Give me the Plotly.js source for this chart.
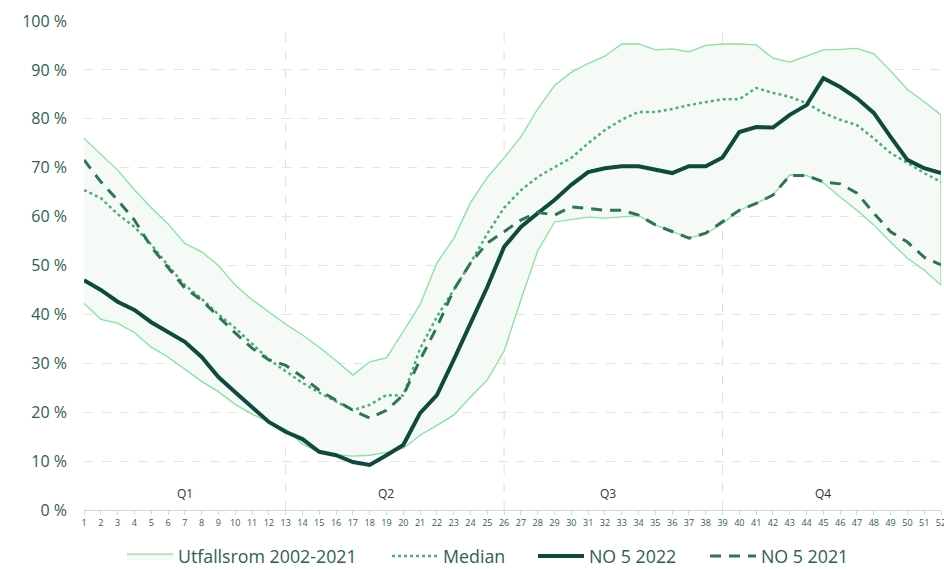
<!DOCTYPE html>
<html>
<head>
<meta charset="utf-8">
<script src="https://cdn.plot.ly/plotly-3.0.1.min.js"></script>
<style>
  body { margin: 0; background: #fff; }
  #chart { width: 944px; height: 570px; }
</style>
</head>
<body>
<div id="chart"></div>
<script>
// Fyllingsgrad NO 5, uke 1-52 (prosent)
const uker = Array.from({ length: 52 }, (_, i) => i + 1);

const maks = [76, 72.8, 69.5, 65.5, 61.8, 58.5, 54.5, 52.8, 50, 46, 43, 40.5, 38, 35.8, 33.3, 30.5, 27.6, 30.3, 31.1, 36.5,
  42, 50.5, 55.5, 62.8, 68, 72, 76.3, 82, 86.8, 89.5, 91.3, 92.8, 95.3, 95.3, 94.1, 94.3, 93.7, 95, 95.3, 95.3,
  95.1, 92.4, 91.6, 92.8, 94.1, 94.2, 94.4, 93.3, 89.8, 86, 83.5, 80.8];

const min = [42.3, 39, 38.2, 36.3, 33.3, 31.3, 28.8, 26.3, 24.2, 21.6, 19.6, 18, 16.5, 13.5, 11.8, 11.3, 11, 11.2, 11.8, 12.6,
  15.3, 17.3, 19.4, 23.1, 26.6, 32.5, 43, 53, 58.9, 59.4, 59.9, 59.7, 60, 60.2, 58.3, 57, 55.6, 56.5, 58.6, 61.3,
  62.7, 64.4, 68.5, 68.4, 66.9, 64, 61.3, 58.3, 54.8, 51.5, 49.1, 46];

const median = [65.4, 63.8, 60.5, 57.9, 54.3, 50, 46, 43.2, 40, 37.2, 34, 30.8, 28.4, 26, 24, 22.2, 20.4, 21.5, 23.5, 23.4,
  33, 39.5, 45, 50.5, 56.5, 61.8, 65.4, 68.1, 70.1, 72, 75, 77.7, 79.8, 81.4, 81.4, 82, 82.8, 83.4, 84, 84,
  86.3, 85.3, 84.5, 83.2, 81.2, 79.8, 78.7, 76, 73, 71, 68.9, 67.1];

const no5_2022 = [47, 45, 42.6, 40.9, 38.4, 36.4, 34.4, 31.3, 27.2, 24.1, 21.1, 18, 16, 14.5, 11.9, 11.2, 9.8, 9.2, 11.2, 13.3,
  19.8, 23.5, 30.7, 38.2, 45.6, 53.8, 57.9, 60.7, 63.4, 66.5, 69.1, 69.9, 70.3, 70.3, 69.7, 68.9, 70.3, 70.3, 72.1, 77.3,
  78.3, 78.2, 80.8, 82.8, 88.3, 86.5, 84.2, 81.2, 76.3, 71.6, 69.9, 68.9];

const no5_2021 = [71.6, 67.1, 63.4, 59.3, 53.8, 49.7, 45.4, 42.9, 39.5, 36.2, 33.1, 30.7, 29.6, 27.2, 24.5, 22.5, 20.4, 18.8, 20.4, 23.5,
  30.7, 37.4, 45, 50.5, 54.6, 56.9, 59.3, 60.9, 60.3, 62, 61.6, 61.3, 61.3, 60.3, 58.3, 56.9, 55.6, 56.6, 58.9, 61.3,
  62.7, 64.4, 68.4, 68.4, 67.1, 66.7, 64.8, 60.7, 56.9, 54.8, 51.7, 50.1];

const kvartaler = ['Q1', 'Q2', 'Q3', 'Q4'];
const kvartalMidt = [7, 19, 32.2, 45];
const kvartalGrenser = [13, 26, 39];

const tekstFarge = '#2f5d57';

// Utfallsrom som lukket polygon (maks fram, min tilbake)
const utfallsrom = {
  x: uker.concat(uker.slice().reverse()),
  y: maks.concat(min.slice().reverse()),
  type: 'scatter',
  mode: 'lines',
  fill: 'toself',
  fillcolor: '#f5faf6',
  line: { color: '#86e39a', width: 1.3 },
  name: 'Utfallsrom 2002-2021',
  legend: 'legend',
  hoverinfo: 'skip'
};

const medianLinje = {
  x: uker, y: median, type: 'scatter', mode: 'lines',
  name: 'Median', legend: 'legend2',
  line: { color: '#4fae75', width: 2.5, dash: 'dot' }
};

const linje2022 = {
  x: uker, y: no5_2022, type: 'scatter', mode: 'lines',
  name: 'NO 5 2022', legend: 'legend3',
  line: { color: '#0f4a3e', width: 4 }
};

const linje2021 = {
  x: uker, y: no5_2021, type: 'scatter', mode: 'lines',
  name: 'NO 5 2021', legend: 'legend4',
  line: { color: '#2d7556', width: 3, dash: '11px,8px' }
};

// en legende per serie, plassert som i originalen
function legende(x) {
  return {
    orientation: 'v', x: x, xanchor: 'left', y: -0.133, yanchor: 'bottom',
    font: { size: 17.8, color: tekstFarge },
    itemwidth: 46,
    bgcolor: 'rgba(0,0,0,0)'
  };
}

const layout = {
  width: 944,
  height: 570,
  margin: { l: 84, r: 3, t: 21, b: 60, autoexpand: false },
  paper_bgcolor: '#fff',
  plot_bgcolor: '#fff',
  font: { family: 'Open Sans, sans-serif', color: tekstFarge },
  showlegend: true,
  legend: legende(0.0443),
  legend2: legende(0.3536),
  legend3: legende(0.5239),
  legend4: legende(0.7246),
  xaxis: {
    range: [1, 52],
    tickmode: 'linear', tick0: 1, dtick: 1,
    tickfont: { size: 9, color: tekstFarge },
    ticklabeloverflow: 'allow',
    showgrid: false,
    zeroline: false,
    showline: true, linecolor: '#d6d6d6', linewidth: 1,
    ticks: 'outside', ticklen: 4, tickcolor: '#d6d6d6'
  },
  yaxis: {
    range: [0, 100],
    tickmode: 'linear', tick0: 0, dtick: 10,
    ticksuffix: ' %',
    tickfont: { size: 16, color: tekstFarge },
    ticklabelstandoff: 16,
    gridcolor: '#e3e3e3', griddash: 'dash', gridwidth: 1,
    zeroline: false
  },
  shapes: kvartalGrenser.map(u => ({
    type: 'line', xref: 'x', yref: 'paper', x0: u, x1: u, y0: 0, y1: 0.99,
    line: { color: '#dcdcdc', width: 1, dash: 'dash' }, layer: 'below'
  })),
  annotations: kvartaler.map((q, i) => ({
    x: kvartalMidt[i], y: 3.3, xref: 'x', yref: 'y', text: q, showarrow: false,
    font: { size: 12, color: '#333' }
  }))
};

Plotly.newPlot('chart', [utfallsrom, medianLinje, linje2022, linje2021], layout, { displayModeBar: false, staticPlot: true });
</script>
</body>
</html>
